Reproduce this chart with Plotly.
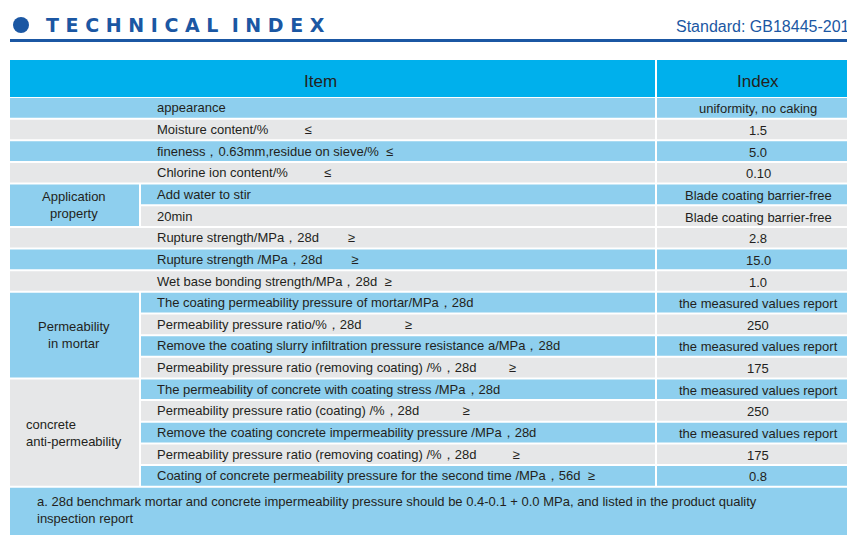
import plotly.graph_objects as go

items = [
    "appearance",
    "Moisture content/%          ≤",
    "fineness，0.63mm,residue on sieve/%  ≤",
    "Chlorine ion content/%          ≤",
    "Add water to stir",
    "20min",
    "Rupture strength/MPa，28d        ≥",
    "Rupture strength /MPa，28d        ≥",
    "Wet base bonding strength/MPa，28d  ≥",
    "The coating permeability pressure of mortar/MPa，28d",
    "Permeability pressure ratio/%，28d            ≥",
    "Remove the coating slurry infiltration pressure resistance a/MPa，28d",
    "Permeability pressure ratio (removing coating) /%，28d         ≥",
    "The permeability of concrete with coating stress /MPa，28d",
    "Permeability pressure ratio (coating) /%，28d            ≥",
    "Remove the coating concrete impermeability pressure /MPa，28d",
    "Permeability pressure ratio (removing coating) /%，28d          ≥",
    "Coating of concrete permeability pressure for the second time /MPa，56d  ≥",
]
index_vals = [
    "uniformity, no caking", "1.5", "5.0", "0.10",
    "Blade coating barrier-free", "Blade coating barrier-free",
    "2.8", "15.0", "1.0",
    "the measured values report", "250", "the measured values report", "175",
    "the measured values report", "250", "the measured values report", "175", "0.8",
]
row_colors = ["B", "G", "B", "G", "B", "G", "G", "B", "G",
              "B", "G", "B", "G", "B", "G", "B", "G", "B"]
groups = [("Application<br>property", 4, 5, "B", "center"),
          ("Permeability<br>in mortar", 9, 12, "B", "center"),
          ("concrete<br>anti-permeability", 13, 17, "G", "left")]
footnote = ("a. 28d benchmark mortar and concrete impermeability pressure should be 0.4-0.1 + 0.0 MPa, "
            "and listed in the product quality<br>inspection report")

BLUE, GREY, HEAD, DARK = "#8ecfee", "#e6e7e8", "#00b0ec", "#1b57a3"
FONT = "Liberation Sans, Arial, sans-serif"
TXT = "#231f20"
col = {"B": BLUE, "G": GREY}

top, pitch = 90, 21.65
x0, x1, x2, x3 = 2, 132, 648, 853

fig = go.Figure()
shapes, anns = [], []

def rect(xa, ya, xb, yb, c):
    shapes.append(dict(type="rect", x0=xa, y0=ya, x1=xb, y1=yb, fillcolor=c,
                       line=dict(width=0), layer="below"))

def text(x, y, s, size=13, anchor="left", color=TXT, family=FONT):
    anns.append(dict(x=x, y=y, text=s, showarrow=False, xanchor=anchor, yanchor="middle",
                     align=anchor, font=dict(size=size, color=color, family=family)))

# title bar
shapes.append(dict(type="circle", x0=5, y0=9, x1=21, y1=25, fillcolor=DARK, line=dict(width=0)))
text(36, 17, "<b>T E C H N I C A L  I N D E X</b>", size=19, color=DARK,
     family="DejaVu Sans, sans-serif")
text(852, 18, "Standard: GB18445-2012", size=16, anchor="right", color=DARK)
rect(2, 31, 853, 34, DARK)

# header
rect(x0, 52, x2 - 1, 89, HEAD)
rect(x2 + 1, 52, x3, 89, HEAD)
text(312, 73, "Item", size=17, anchor="center")
text(750, 73, "Index", size=17, anchor="center")

grouped = set()
for g in groups:
    grouped.update(range(g[1], g[2] + 1))

for i, (it, iv, rc) in enumerate(zip(items, index_vals, row_colors)):
    ya = top + i * pitch
    yb = ya + pitch - 2
    if i in grouped:
        rect(x1 + 1, ya, x2 - 1, yb, col[rc])
    else:
        rect(x0, ya, x2 - 1, yb, col[rc])
    rect(x2 + 1, ya, x3, yb, col[rc])
    ym = (ya + yb) / 2
    text(147, ym, it)
    text(750, ym + 1, iv, anchor="center")

for label, a, b, c, al in groups:
    ya = top + a * pitch
    yb = top + (b + 1) * pitch - 2
    rect(x0, ya, x1 - 1, yb, col[c])
    if al == "center":
        text(66, (ya + yb) / 2, label, anchor="center")
    else:
        text(16, (ya + yb) / 2, label)

fy = top + len(items) * pitch
rect(x0, fy, x3, 528, BLUE)
text(27, fy + 22, footnote)

fig.update_layout(
    width=855, height=535, margin=dict(l=0, r=0, t=0, b=0),
    paper_bgcolor="white", plot_bgcolor="white",
    xaxis=dict(range=[0, 855], visible=False, fixedrange=True),
    yaxis=dict(range=[535, 0], visible=False, fixedrange=True),
    shapes=shapes, annotations=anns, showlegend=False,
)
fig.write_html("out.html")
